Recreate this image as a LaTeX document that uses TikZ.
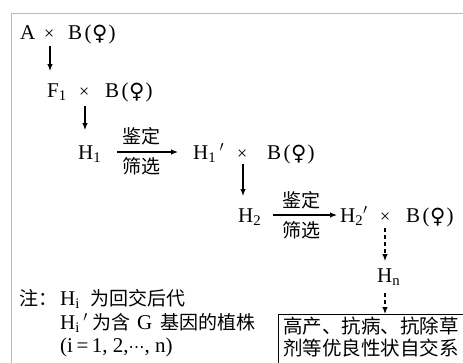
\documentclass[tikz,border=0pt]{standalone}
\usepackage{fontspec}
\setmainfont{Liberation Serif}
\newfontfamily\cjk{Noto Sans CJK SC}
\newfontfamily\symf{DejaVu Sans}
\usetikzlibrary{arrows.meta}
\newcommand\fem{\raisebox{-1.5pt}{\symf\fontsize{21}{22}\selectfont ♀}}
\newcommand\bfem{B\hspace{2.5pt}(\hspace{0.5pt}\fem\hspace{1pt})}
\begin{document}
\begin{tikzpicture}[x=1pt,y=-1pt,
  lat/.style={anchor=base west,inner sep=0pt,font=\fontsize{21}{24}\selectfont},
  tim/.style={anchor=base west,inner sep=0pt,font=\fontsize{18}{20}\selectfont},
  zh/.style={anchor=west,inner sep=0pt,font=\cjk\fontsize{19}{22}\selectfont},
  zhb/.style={anchor=west,inner sep=0pt,font=\cjk\fontsize{19.5}{22}\selectfont},
  arr/.style={line width=1.2pt,-{Latex[length=7pt,width=5.5pt]}},
  darr/.style={arr,dash pattern=on 4pt off 3pt}]
\useasboundingbox (0,0) rectangle (463,362);
\draw[gray!55,line width=0.9pt] (11,375) -- (11,13) -- (475,13);
% row 1
\node[lat] (A) at (20,39) {A};
\node[tim] (x1) at (44,39) {×};
\node[lat] (B1) at (68,39) {\bfem};
% row F1
\node[lat] (F1) at (47,97) {F\textsubscript{1}};
\node[tim] (x2) at (79,97) {×};
\node[lat] (B2) at (105,97) {\bfem};
% row H1
\node[lat] (H1) at (78,159) {H\textsubscript{1}};
\node[lat] (H1p) at (193,159) {H\textsubscript{1}\,$'$};
\node[tim] (x3) at (237,159) {×};
\node[lat] (B3) at (267,159) {\bfem};
\node[zh] (jd1) at (122,136) {鉴定};
\node[zh] (sx1) at (122,166) {筛选};
% row H2
\node[lat] (H2) at (238,222) {H\textsubscript{2}};
\node[lat] (H2p) at (340,222) {H\textsubscript{2}$'$};
\node[tim] (x4) at (380,222) {×};
\node[lat] (B4) at (406,222) {\bfem};
\node[zh] (jd2) at (282,200) {鉴定};
\node[zh] (sx2) at (282,230) {筛选};
% Hn
\node[lat] (Hn) at (377,282) {H\textsubscript{n}};
% box
\node[draw,line width=0.9pt,anchor=north west,minimum width=210pt,minimum height=70pt,inner sep=0pt] (box) at (278,314) {};
\node[zhb] (b1) at (283,326) {高产、抗病、抗除草};
\node[zhb] (b2) at (283,348) {剂等优良性状自交系};
% notes
\node[zh] (zhu) at (19,298) {注：};
\node[lat] (Hi) at (60,305) {H\textsubscript{i}};
\node[zh] (n1) at (90,298) {为回交后代};
\node[lat] (Hip) at (60,329) {H\textsubscript{i}\,$'$};
\node[zh] (n2a) at (92,322) {为含};
\node[lat] (G) at (137,329) {G};
\node[zh] (n2b) at (160,322) {基因的植株};
\node[lat] (n3) at (60,352) {(i\,=\,1, 2,{\symf\fontsize{16}{16}\selectfont ⋯}, n)};
% arrows
\draw[arr] ([yshift=-7pt]A.south -| 50,0) -- ([yshift=12pt]F1.north -| 50,0);
\draw[arr] ([yshift=-9pt]x2.south -| 85,0) -- ([yshift=15pt]H1.north -| 85,0);
\draw[arr,shorten <=16pt,shorten >=15pt] (H1.east |- 0,152) -- (H1p.west |- 0,152);
\draw[arr] ([yshift=-5pt]x3.south -| 243,0) -- ([yshift=12pt]H2.north -| 243,0);
\draw[arr,shorten <=12pt,shorten >=3pt] (H2.east |- 0,215) -- (H2p.west |- 0,215);
\draw[darr] ([yshift=-6pt]x4.south -| 385,0) -- ([yshift=7pt]Hn.north -| 385,0);
\draw[darr] ([yshift=-8pt]Hn.south -| 385,0) -- (box.north -| 385,0);
\end{tikzpicture}
\end{document}
